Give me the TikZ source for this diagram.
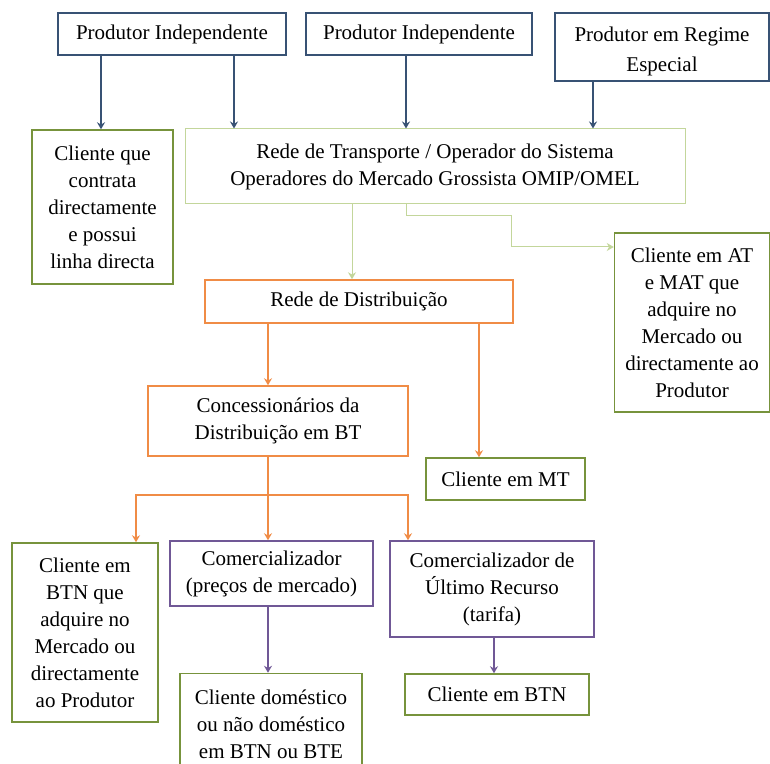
\documentclass[tikz,border=0pt]{standalone}
\usepackage{fontspec}
\setmainfont{Liberation Serif}
\usepackage{tikz}
\usetikzlibrary{positioning, arrows.meta}
\usepackage{xcolor}
\definecolor{navy}{RGB}{56,82,116}
\definecolor{dkgreen}{RGB}{119,147,60}
\definecolor{ltgreen}{RGB}{195,214,155}
\definecolor{orng}{RGB}{240,140,70}
\definecolor{purp}{RGB}{112,88,150}

\begin{document}
\begin{tikzpicture}[x=0.5pt, y=-0.5pt,
    box/.style={draw, line width=0.75pt, align=center, inner sep=2pt,
        font=\fontsize{10.5}{13.5}\selectfont},
    arr/.style={line width=0.7pt, -{Stealth[length=3.5pt,width=4pt]}}]
    \clip (0,0) rectangle (770,764);

    % produtores
    \node[box, navy, text=black, minimum width=114pt, minimum height=21pt] (prodA) at (172,34) {Produtor Independente};
    \node[box, navy, text=black, minimum width=113pt, minimum height=21pt] (prodB) at (419,34) {Produtor Independente};
    \node[box, navy, text=black, minimum width=107pt, minimum height=34pt,
        font=\fontsize{10.5}{15}\selectfont] (prodC) at (662,47) {\rule{0pt}{11.5pt}Produtor em Regime\\Especial};

    % transporte e clientes directos
    \node[box, dkgreen, text=black, minimum width=70.5pt, minimum height=77pt] (direto) at (102.5,207)
        {Cliente que\\contrata\\directamente\\e possui\\linha directa};
    \node[box, ltgreen, line width=0.5pt, text=black, minimum width=250pt, minimum height=37.5pt] (transp) at (435,166.5)
        {Rede de Transporte / Operador do Sistema\\Operadores do Mercado Grossista OMIP/OMEL};
    \node[box, dkgreen, text=black, minimum width=77.5pt, minimum height=89.5pt] (clAT) at (692,322.5)
        {Cliente em AT\\e MAT que\\adquire no\\Mercado ou\\directamente ao\\Produtor};

    % distribuicao
    \node[box, orng, text=black, minimum width=154pt, minimum height=21.5pt] (distr) at (359,301.5) {Rede de Distribuição};
    \node[box, orng, text=black, minimum width=130pt, minimum height=35pt] (conc) at (278,421)
        {Concessionários da\\Distribuição em BT};
    \node[box, dkgreen, text=black, minimum width=79.5pt, minimum height=21pt] (clMT) at (505.5,479) {Cliente em MT};

    % comercializacao
    \node[box, dkgreen, text=black, minimum width=73pt, minimum height=89.5pt] (clBTNq) at (85,632.5)
        {Cliente em\\BTN que\\adquire no\\Mercado ou\\directamente\\ao Produtor};
    \node[box, purp, text=black, minimum width=101.5pt, minimum height=32.5pt] (comerc) at (271.5,573.5)
        {Comercializador\\(preços de mercado)};
    \node[box, purp, text=black, minimum width=102pt, minimum height=48pt] (cur) at (492,589)
        {Comercializador de\\Último Recurso\\(tarifa)};
    \node[box, dkgreen, text=black, minimum width=91pt, minimum height=50.5pt] (dom) at (271,724)
        {Cliente doméstico\\ou não doméstico\\em BTN ou BTE};
    \node[box, dkgreen, text=black, minimum width=92pt, minimum height=20.5pt] (clBTN) at (497,694.5) {Cliente em BTN};

    % ligacoes
    \draw[arr, navy] (prodA.south -| 101,0) -- (direto.north -| 101,0);
    \draw[arr, navy] (prodA.south -| 234,0) -- (transp.north -| 234,0);
    \draw[arr, navy] (prodB.south -| 406,0) -- (transp.north -| 406,0);
    \draw[arr, navy] (prodC.south -| 593,0) -- (transp.north -| 593,0);

    \draw[arr, ltgreen, line width=0.5pt] (transp.south -| 352,0) -- (distr.north -| 352,0);
    \draw[arr, ltgreen, line width=0.5pt] (transp.south -| 406,0) |- (511,216) |- (clAT.west |- 0,247);

    \draw[arr, orng] (distr.south -| 268,0) -- (conc.north -| 268,0);
    \draw[arr, orng] (distr.south -| 479,0) -- (clMT.north -| 479,0);

    \coordinate (split) at (268,495);
    \draw[arr, orng] (conc.south -| split) -- (comerc.north -| split);
    \draw[arr, orng] (split) -| (clBTNq.north -| 136,0);
    \draw[arr, orng] (split) -| (cur.north -| 408,0);

    \draw[arr, purp] (comerc.south -| 268,0) -- (dom.north -| 268,0);
    \draw[arr, purp] (cur.south -| 494,0) -- (clBTN.north -| 494,0);
\end{tikzpicture}
\end{document}
